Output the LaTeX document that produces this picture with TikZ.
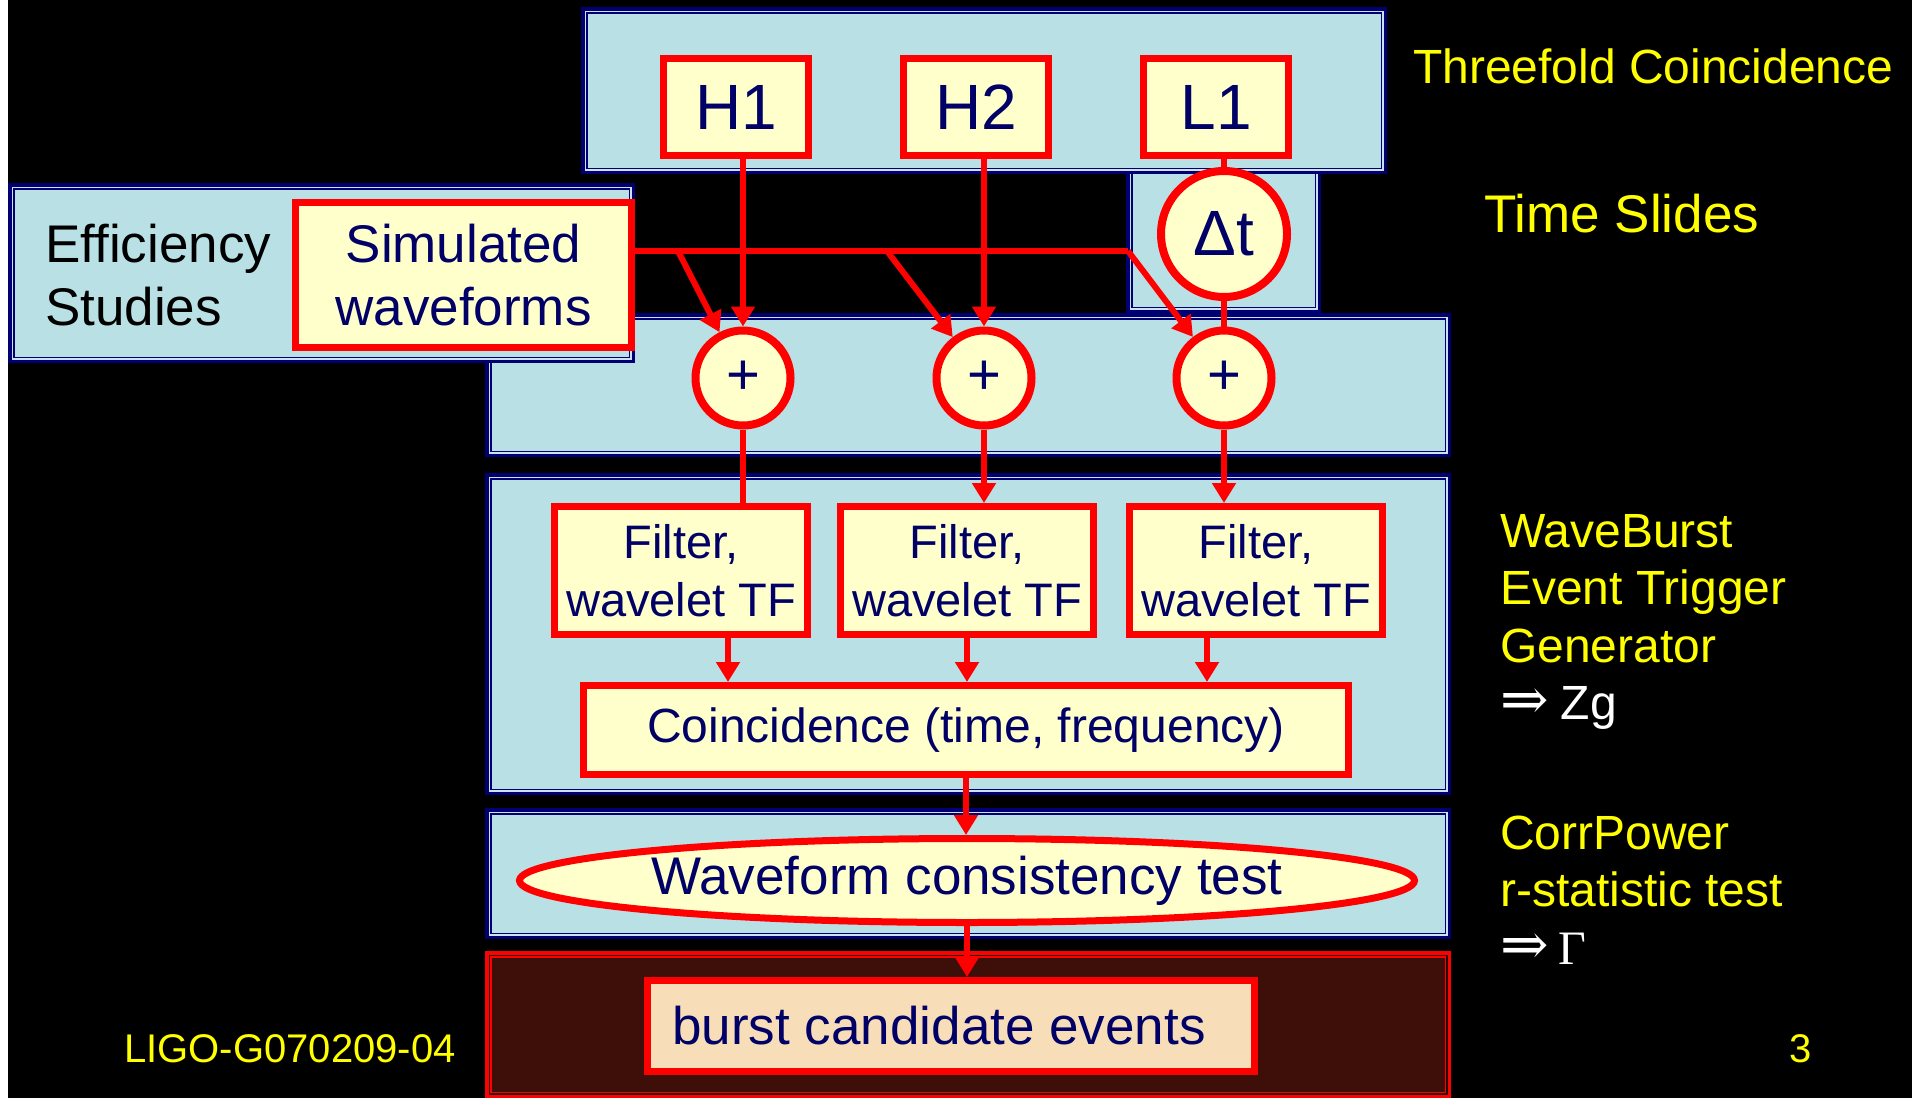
\documentclass[tikz,border=0pt]{standalone}
\usepackage{fontspec}
\setmainfont{Liberation Sans}
\newfontfamily\timesfont{Liberation Serif}
\newfontfamily\arrowfont{DejaVu Serif}
\usetikzlibrary{calc,arrows.meta,shapes.geometric}

\definecolor{panelblue}{RGB}{185,224,228}
\definecolor{panelnavy}{RGB}{0,0,115}
\definecolor{panelgap}{RGB}{205,225,238}
\definecolor{boxred}{RGB}{255,0,0}
\definecolor{boxyellow}{RGB}{255,255,204}
\definecolor{textnavy}{RGB}{0,0,102}
\definecolor{burstdark}{RGB}{62,14,8}
\definecolor{burstgap}{RGB}{40,6,3}
\definecolor{burstpeach}{RGB}{247,221,184}
\definecolor{labelyellow}{RGB}{255,255,0}

% framed panel: [border/gap/fill](top left)(bottom right)
\def\panel[#1/#2/#3](#4,#5)(#6,#7){%
  \fill[#1] (#4,#5) rectangle (#6,#7);
  \fill[#2] ($(#4,#5)+(3.5,3.5)$) rectangle ($(#6,#7)-(3.5,3.5)$);
  \fill[#1] ($(#4,#5)+(5,5)$) rectangle ($(#6,#7)-(5,5)$);
  \fill[#3] ($(#4,#5)+(6.5,6.5)$) rectangle ($(#6,#7)-(6.5,6.5)$);}

\tikzset{
  redbox/.style={draw=boxred, line width=7pt, fill=boxyellow, text=textnavy, inner sep=0pt, align=center},
  redcirc/.style={redbox, circle, line width=8pt},
  flow/.style={draw=boxred, line width=6pt},
  flowtip/.style={flow, -{Triangle[width=23pt,length=20pt]}},
  sidelabel/.style={text=labelyellow, inner sep=0pt, anchor=base west, font=\fontsize{48}{57.5}\selectfont},
  bigtxt/.style={font=\fontsize{64}{77}\selectfont},
  midtxt/.style={font=\fontsize{53}{63}\selectfont},
  smalltxt/.style={font=\fontsize{47}{58}\selectfont}
}

\begin{document}
\begin{tikzpicture}[x=1pt,y=-1pt]
  %%%%% START %%%%%
  \useasboundingbox (0,0) rectangle (1912,1098);
  \fill[white] (0,0) rectangle (8,1098);
  \fill[black] (8,0) rectangle (1912,1098);

  % stage panels
  \panel[panelnavy/panelgap/panelblue](485,313)(1451,457)
  \panel[panelnavy/panelgap/panelblue](485,473)(1451,795)
  \panel[panelnavy/panelgap/panelblue](485,808)(1451,939)
  \panel[boxred/burstgap/burstdark](485,951)(1451,1098)
  \panel[panelnavy/panelgap/panelblue](1126,160)(1321,313)
  \panel[panelnavy/panelgap/panelblue](581,7)(1387,174)
  \panel[panelnavy/panelgap/panelblue](8,183)(635,363)

  % detectors
  \node[redbox, bigtxt, minimum width=145pt, minimum height=97pt] (H1) at (736,107) {H1};
  \node[redbox, bigtxt, minimum width=145pt, minimum height=97pt] (H2) at (976,107) {H2};
  \node[redbox, bigtxt, minimum width=145pt, minimum height=97pt] (L1) at (1216,107) {L1};
  \node[redcirc, bigtxt, minimum size=126pt] (dt) at (1224,234) {Δt};

  \node[anchor=base west, inner sep=0pt, midtxt] (eff) at (45,262)
    {\begin{tabular}[t]{@{}l@{}}Efficiency\\Studies\end{tabular}};
  \node[redbox, midtxt, minimum width=336pt, minimum height=145pt] (sim) at (463.5,275) {Simulated\\waveforms};

  \node[redcirc, font=\fontsize{58}{70}\selectfont, minimum size=95pt] (plus1) at (743,378) {+};
  \node[redcirc, font=\fontsize{58}{70}\selectfont, minimum size=95pt] (plus2) at (984,378) {+};
  \node[redcirc, font=\fontsize{58}{70}\selectfont, minimum size=95pt] (plus3) at (1224,378) {+};

  \node[redbox, smalltxt, minimum width=253pt, minimum height=128pt] (filt1) at (681,570.5) {Filter,\\wavelet TF};
  \node[redbox, smalltxt, minimum width=253pt, minimum height=128pt] (filt2) at (967,570.5) {Filter,\\wavelet TF};
  \node[redbox, smalltxt, minimum width=253pt, minimum height=128pt] (filt3) at (1256,570.5) {Filter,\\wavelet TF};

  \node[redbox, font=\fontsize{48}{58}\selectfont, minimum width=765pt, minimum height=89pt] (coinc) at (966,730) {Coincidence (time, frequency)};
  \node[redbox, ellipse, midtxt, minimum width=895pt, minimum height=84pt] (wcons) at (967,880.5) {Waveform consistency test};
  \node[redbox, midtxt, fill=burstpeach, minimum width=607pt, minimum height=91pt] (burst) at (951,1026) {burst candidate events\hspace*{24pt}};

  % injection bus
  \coordinate (bus) at (1128,251);
  \coordinate (b1) at (678,251);
  \coordinate (b2) at (887,251);

  \draw[flowtip] (plus1 |- H1.south) -- (plus1);
  \draw[flowtip] (plus2 |- H2.south) -- (plus2);
  \draw[flow] (dt |- L1.south) -- (dt);
  \draw[flow] (dt) -- (plus3);
  \draw[flow] (sim.east |- bus) -- (bus);
  \draw[flowtip] (b1) -- (plus1);
  \draw[flowtip] (b2) -- (plus2);
  \draw[flowtip] (bus) -- (plus3);

  \draw[flow] (plus1) -- (plus1 |- filt1.north);
  \draw[flowtip] (plus2) -- (plus2 |- filt2.north);
  \draw[flowtip] (plus3) -- (plus3 |- filt3.north);

  \draw[flowtip] ([xshift=47pt]filt1.south) -- ([xshift=47pt]filt1.south |- coinc.north);
  \draw[flowtip] (filt2.south) -- (filt2.south |- coinc.north);
  \draw[flowtip] ([xshift=-49pt]filt3.south) -- ([xshift=-49pt]filt3.south |- coinc.north);
  \draw[flowtip] (coinc.south) -- (coinc.south |- wcons.north);
  \draw[flowtip] (wcons.south) -- (wcons.south |- burst.north);

  % side labels
  \node[sidelabel] (threefold) at (1413,83) {Threefold Coincidence};
  \node[sidelabel, font=\fontsize{53}{63}\selectfont] (slides) at (1484,232) {Time Slides};
  \node[sidelabel] (waveburst) at (1500,547)
    {\begin{tabular}[t]{@{}l@{}}WaveBurst\\Event Trigger\\Generator\\
     \textcolor{white}{{\arrowfont\fontsize{58}{57.5}\selectfont ⇒}\hspace{12pt}Zg}\end{tabular}};
  \node[sidelabel] (corrpower) at (1500,849)
    {\begin{tabular}[t]{@{}l@{}}CorrPower\\r-statistic test\\
     \textcolor{white}{{\arrowfont\fontsize{58}{57.5}\selectfont ⇒}\hspace{10pt}{\timesfont\fontsize{48}{57.5}\selectfont Γ}}\end{tabular}};

  \node[text=labelyellow, inner sep=0pt, font=\fontsize{40}{48}\selectfont] (docid) at (290,1049) {LIGO-G070209-04};
  \node[text=labelyellow, inner sep=0pt, font=\fontsize{40}{48}\selectfont] (pagenum) at (1801,1049) {3};
  %%%%% END %%%%%
\end{tikzpicture}
\end{document}
